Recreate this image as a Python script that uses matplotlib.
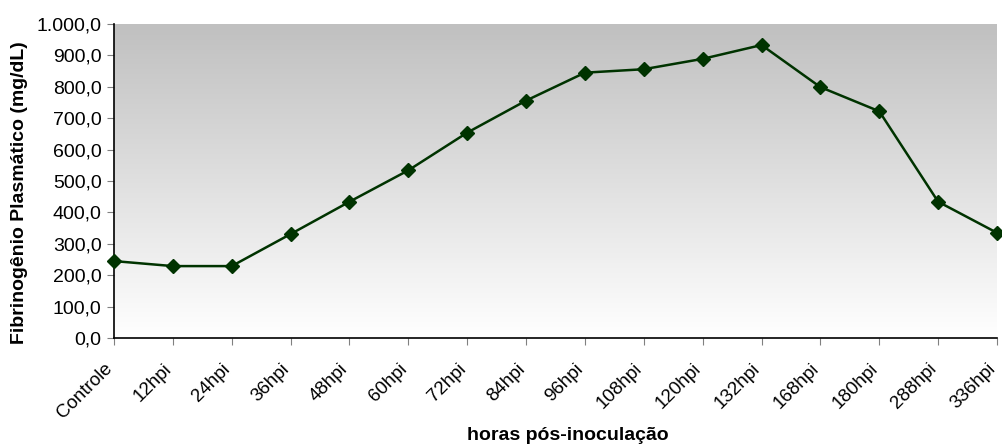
import numpy as np
import matplotlib
matplotlib.use("Agg")
import matplotlib.pyplot as plt
from matplotlib.ticker import FuncFormatter, MultipleLocator
from matplotlib.transforms import ScaledTranslation

plt.rcParams['font.family'] = ['Liberation Sans', 'DejaVu Sans']

categories = ["Controle", "12hpi", "24hpi", "36hpi", "48hpi", "60hpi", "72hpi",
              "84hpi", "96hpi", "108hpi", "120hpi", "132hpi", "168hpi", "180hpi",
              "288hpi", "336hpi"]
fibrinogen = [245, 229, 229, 331, 434, 534, 654, 756, 845, 856, 889, 933,
              799, 722, 434, 335]

fig = plt.figure(figsize=(10.02, 4.47), dpi=100)
ax = fig.add_axes([114/1002, 1 - 338/447, (997-114)/1002, (338-24)/447])

# gradient background
grad = np.linspace(0, 1, 256).reshape(-1, 1)
top = np.array([0xc0, 0xc0, 0xc0]) / 255
bot = np.array([1.0, 1.0, 1.0])
img = top[None, None, :] * (1 - grad[:, :, None]) + bot[None, None, :] * grad[:, :, None]
ax.imshow(img, extent=[0, 1, 0, 1], transform=ax.transAxes, aspect='auto',
          zorder=0, origin='upper')

x = np.arange(len(categories))
ax.plot(x, fibrinogen, color='#003300', lw=1.8, marker='D', ms=7.5,
        markerfacecolor='#003300', markeredgecolor='#003300', zorder=3,
        clip_on=False)

ax.set_xlim(0, len(categories) - 1)
ax.set_ylim(0, 1000)
ax.yaxis.set_major_locator(MultipleLocator(100))

def br(v, pos):
    s = f"{v:,.1f}"
    return s.replace(",", "X").replace(".", ",").replace("X", ".")
ax.yaxis.set_major_formatter(FuncFormatter(br))

ax.set_xticks(x)
ax.set_xticklabels(categories, rotation=45, ha='right', rotation_mode='anchor',
                   fontsize=13.5)
ax.tick_params(axis='x', length=5, color='#808080', pad=11)
ax.tick_params(axis='y', length=5, color='#808080', pad=4, labelsize=14)
offset = ScaledTranslation(-10/100, 0, fig.dpi_scale_trans)
for lab in ax.get_xticklabels():
    lab.set_transform(lab.get_transform() + offset)

for s in ['top', 'right']:
    ax.spines[s].set_visible(False)
for s in ['left', 'bottom']:
    ax.spines[s].set_color('black')
    ax.spines[s].set_linewidth(1.2)

fig.text(568/1002, 1 - 436/447, "horas pós-inoculação", ha='center', va='center',
         fontsize=14, fontweight='bold')
fig.text(20/1002, 1 - 193/447, "Fibrinogênio Plasmático (mg/dL)", ha='center',
         va='center', rotation=90, fontsize=14, fontweight='bold')

fig.savefig("out.png", dpi=100)
